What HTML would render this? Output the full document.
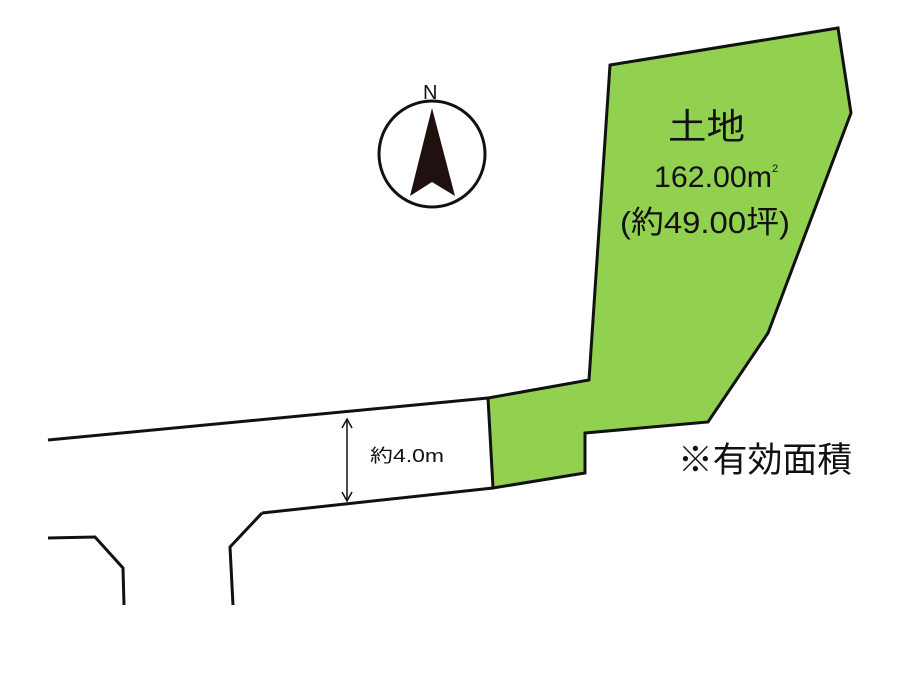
<!DOCTYPE html>
<html><head><meta charset="utf-8"><style>
body{margin:0;background:#fff;}
svg{display:block}
text{font-family:"Liberation Sans","Noto Sans CJK JP",sans-serif;fill:#111}
</style></head><body>
<svg width="900" height="674" viewBox="0 0 900 674">
<polygon points="610,65 838,28 851,113 768,333 708,422 585,433 585,473 493,488 488,398 589,380" fill="#92d050" stroke="#111" stroke-width="3" stroke-linejoin="miter"/>
<polyline points="48,440 488,398" fill="none" stroke="#111" stroke-width="3"/>
<polyline points="262,513 493,488" fill="none" stroke="#111" stroke-width="3"/>
<polyline points="48,538 95,537 123,568 124,605" fill="none" stroke="#111" stroke-width="3"/>
<polyline points="262,513 230,547 233,605" fill="none" stroke="#111" stroke-width="3"/>
<line x1="347" y1="421" x2="347" y2="499" stroke="#111" stroke-width="1.5"/>
<polyline points="342,428 347,419 352,428" fill="none" stroke="#111" stroke-width="1.5"/>
<polyline points="342,492 347,501 352,492" fill="none" stroke="#111" stroke-width="1.5"/>
<text x="370" y="462" font-size="18" textLength="74" lengthAdjust="spacingAndGlyphs">約4.0m</text>
<circle cx="432" cy="154" r="53" fill="none" stroke="#111" stroke-width="3"/>
<polygon points="432,108 410,196 432,182 455,196" fill="#201010"/>
<text x="423" y="99" font-size="20">N</text>
<text x="668" y="139" font-size="36" textLength="77" lengthAdjust="spacingAndGlyphs">土地</text>
<text x="654" y="187" font-size="30" textLength="118" lengthAdjust="spacingAndGlyphs">162.00m</text>
<text x="772" y="172" font-size="11">2</text>
<text x="620" y="233" font-size="31" textLength="170" lengthAdjust="spacingAndGlyphs">(約49.00坪)</text>
<text x="678" y="472" font-size="35" textLength="174" lengthAdjust="spacingAndGlyphs">※有効面積</text>
</svg>
</body></html>
